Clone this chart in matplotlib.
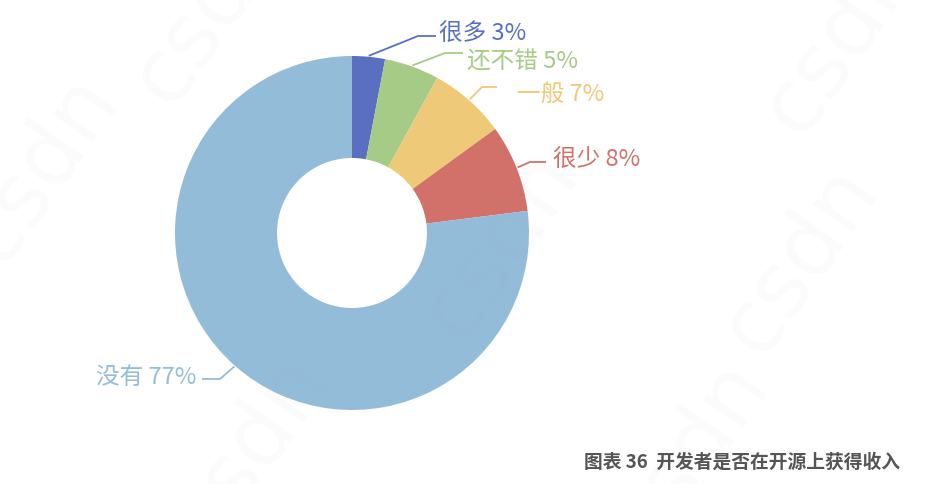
import numpy as np
import matplotlib
matplotlib.use("Agg")
import matplotlib.pyplot as plt

plt.rcParams['font.family'] = ['Noto Sans CJK SC', 'DejaVu Sans']

labels = ['很多', '还不错', '一般', '很少', '没有']
values = [3, 5, 7, 8, 77]
colors = ['#5a6fc0', '#a6cb86', '#eec978', '#d1716a', '#93bcd9']
title = '图表 36  开发者是否在开源上获得收入'

W, H = 928, 484
cx, cy, r_out, r_in = 352, H - 233, 177, 75

# label text anchors and horizontal leader segments (pixel coords, top-left origin)
text_pos = [(439, 34), (467, 62), (517, 95), (553, 160), (196, 378)]
line_y = [36, 53, 87, 162, 379]
line_x = [(418, 436), (445, 463), (482, 497), (530, 546), (220, 202)]

fig = plt.figure(figsize=(W / 100, H / 100), dpi=100)
ax = fig.add_axes([0, 0, 1, 1])

wedges, _ = ax.pie(values, colors=colors, startangle=90, counterclock=False,
                   center=(cx, cy), radius=r_out,
                   wedgeprops=dict(width=r_out - r_in, linewidth=0))
ax.set_xlim(0, W)
ax.set_ylim(0, H)
ax.set_aspect('equal')
ax.axis('off')

for i, w in enumerate(wedges):
    ang = np.deg2rad((w.theta1 + w.theta2) / 2)
    sx = cx + (r_out + 1) * np.cos(ang)
    sy = cy + (r_out + 1) * np.sin(ang)
    bx, ex = line_x[i]
    by = H - line_y[i]
    ax.plot([sx, bx, ex], [sy, by, by], color=colors[i], lw=1.3,
            solid_capstyle='butt')
    tx, ty = text_pos[i]
    ha = 'left' if tx > cx else 'right'
    ax.text(tx, H - ty, '%s %d%%' % (labels[i], values[i]), color=colors[i],
            fontsize=17, ha=ha, va='center')

# faint watermark
for x, y in [(500, 245), (40, 170), (800, 260), (250, 450), (840, 40),
             (690, 455), (210, 10)]:
    ax.text(x, H - y, 'csdn', fontsize=64, color='#999999', alpha=0.035,
            rotation=55, ha='center', va='center', family='DejaVu Sans')

ax.text(900, H - 462, title, fontsize=13.5, color='#555555', ha='right',
        va='center', fontweight='bold')

fig.savefig('out.png', dpi=100)
